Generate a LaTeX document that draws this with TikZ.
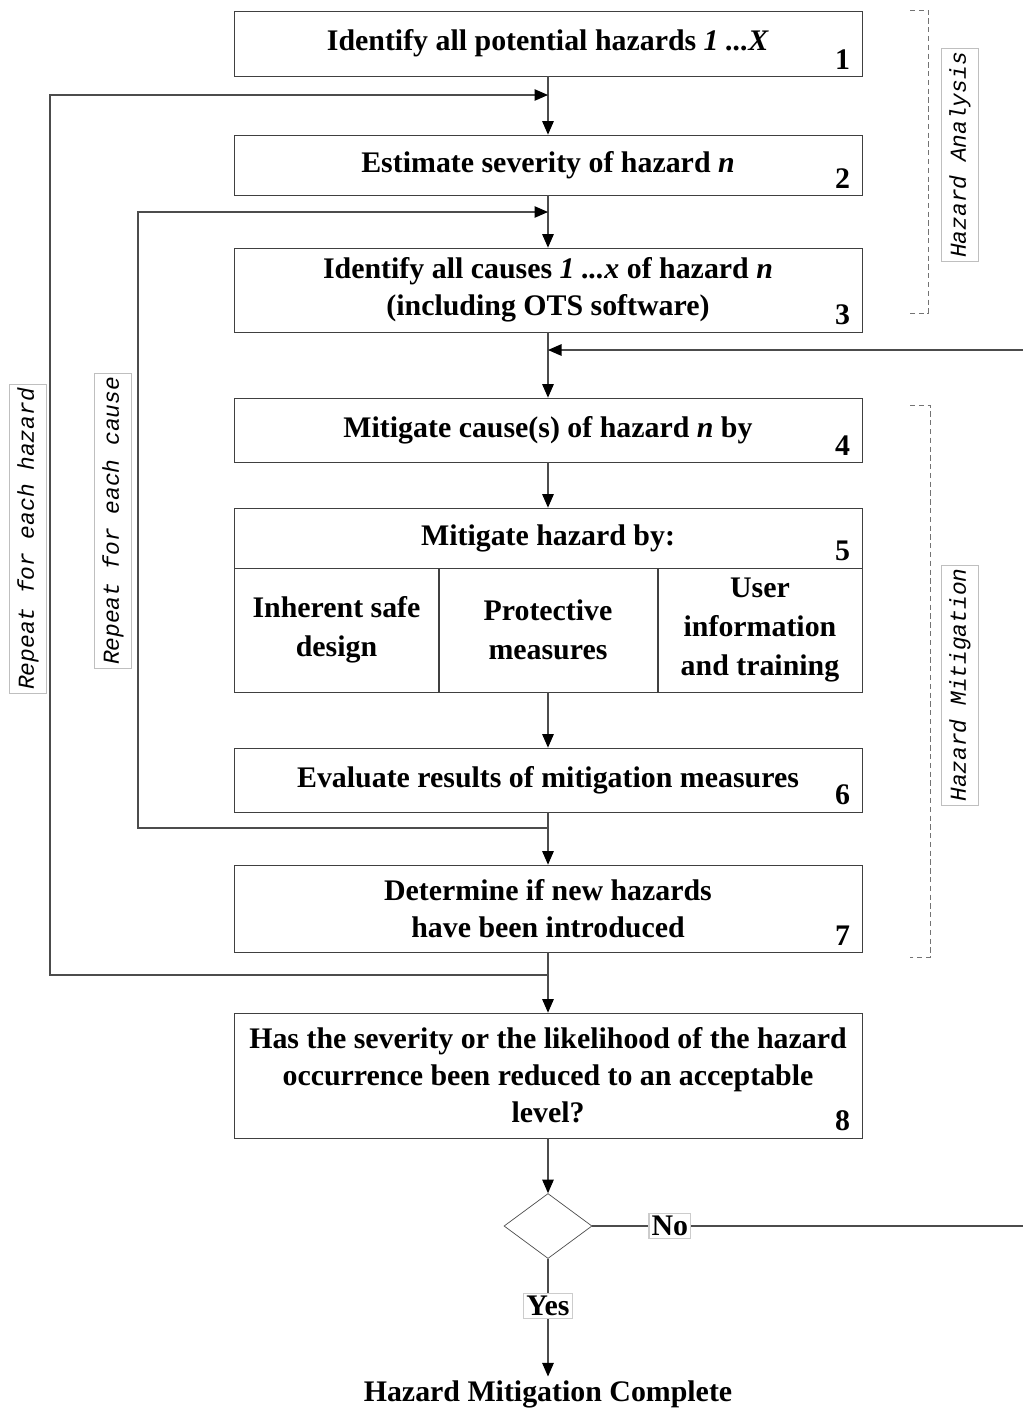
\documentclass[tikz,border=0pt]{standalone}
\usepackage{fontspec}
\setmainfont{Liberation Serif}
\newfontfamily\sidefont{Liberation Mono}
\usetikzlibrary{arrows.meta, shapes.geometric}

\begin{document}
\begin{tikzpicture}[x=0.2mm, y=-0.2mm,
  blk/.style={draw=black!75, thin, rectangle, minimum width=12.56cm, align=center,
               font=\fontsize{17}{21}\selectfont\bfseries, inner sep=2pt},
  cell/.style={draw=black!75, thin, rectangle, minimum height=2.48cm, align=center,
               font=\fontsize{17}{22}\selectfont\bfseries, inner sep=1pt},
  arr/.style={draw=black!70, semithick, -{Triangle[length=2.7mm, width=2.3mm, color=black]}},
  lnk/.style={draw=black!70, semithick},
  numlbl/.style={font=\fontsize{17}{19}\selectfont\bfseries, anchor=south east, inner sep=0pt},
  tag/.style={draw=black!20, fill=white, font=\fontsize{17}{19}\selectfont\bfseries, inner sep=1.5pt},
  side/.style={draw=black!25, fill=white, rotate=90, inner xsep=2pt, inner ysep=4.5pt,
               font=\sidefont\itshape\fontsize{13}{15}\selectfont},
  brk/.style={draw=black!55, densely dashed, thin},
  decide/.style={draw=black!70, thin, diamond, minimum width=1.76cm, minimum height=1.3cm, inner sep=0pt}
]
\useasboundingbox (0,0) rectangle (1023,1410);

% boxes
\node[blk, minimum height=1.3cm]  (b1) at (548,43.5)  {Identify all potential hazards \textit{1 ...X}};
\node[blk, minimum height=1.2cm]  (b2) at (548,165)   {Estimate severity of hazard \textit{n}};
\node[blk, minimum height=1.68cm] (b3) at (548,290)   {Identify all causes \textit{1 ...x} of hazard \textit{n}\\(including OTS software)};
\node[blk, minimum height=1.28cm] (b4) at (548,430)   {Mitigate cause(s) of hazard \textit{n} by};
\node[blk, minimum height=1.2cm]  (b5) at (548,538)   {Mitigate hazard by:};
\node[cell, minimum width=4.1cm]  (c1) at (336.5,630) {Inherent safe\\design};
\node[cell, minimum width=4.38cm] (c2) at (548,630)   {Protective\\measures};
\node[cell, minimum width=4.08cm] (c3) at (760,630)   {User\\information\\and training};
\node[blk, minimum height=1.28cm] (b6) at (548,780)   {Evaluate results of mitigation measures};
\node[blk, minimum height=1.74cm] (b7) at (548,908.5) {Determine if new hazards\\have been introduced};
\node[blk, minimum height=2.5cm]  (b8) at (548,1075.5) {Has the severity or the likelihood of the hazard\\occurrence been reduced to an acceptable\\level?};
\node[decide] (dec) at (548,1226) {};
\node[font=\fontsize{17}{19}\selectfont\bfseries, inner sep=2pt] (done) at (548,1394) {Hazard Mitigation Complete};

% step numbers
\node[numlbl] (n1) at ([shift={(-12,-7)}]b1.south east) {1};
\node[numlbl] (n2) at ([shift={(-12,-7)}]b2.south east) {2};
\node[numlbl] (n3) at ([shift={(-12,-7)}]b3.south east) {3};
\node[numlbl] (n4) at ([shift={(-12,-7)}]b4.south east) {4};
\node[numlbl] (n5) at ([shift={(-12,-7)}]b5.south east) {5};
\node[numlbl] (n6) at ([shift={(-12,-7)}]b6.south east) {6};
\node[numlbl] (n7) at ([shift={(-12,-7)}]b7.south east) {7};
\node[numlbl] (n8) at ([shift={(-12,-7)}]b8.south east) {8};

% junctions
\coordinate (j1) at (548,95);
\coordinate (j2) at (548,212);
\coordinate (j3) at (548,350);
\coordinate (j6) at (548,828);
\coordinate (j7) at (548,975);
\coordinate (lpH) at (50,95);
\coordinate (lpC) at (138,212);
\coordinate (rIn) at (1023,350);
\coordinate (rOut) at (1023,1226);

% main flow
\draw[arr] (b1) -- (b2);
\draw[arr] (b2) -- (b3);
\draw[arr] (b3) -- (b4);
\draw[arr] (b4) -- (b5);
\draw[arr] (c2.south) -- (b6.north);
\draw[arr] (b6) -- (b7);
\draw[arr] (b7) -- (b8);
\draw[arr] (b8) -- (dec);
\draw[arr] (dec) -- node[tag, pos=0.4] (yes) {Yes} (done);
\draw[lnk] (dec) -- node[tag, pos=0.18] (no) {No} (rOut);

% loops
\draw[arr] (j7) -| (lpH) -- (j1);
\draw[arr] (j6) -| (lpC) -- (j2);
\draw[arr] (rIn) -- (j3);

% side labels
\node[side] (rh) at (28,539)  {Repeat for each hazard};
\node[side] (rc) at (113,521) {Repeat for each cause};
\draw[brk] (910,10) -- (928,10) -- (928,313) -- (910,313);
\draw[brk] (910,405) -- (930,405) -- (930,957) -- (910,957);
\node[side] (ha) at (960,155) {Hazard Analysis};
\node[side] (hm) at (960,685) {Hazard Mitigation};
\end{tikzpicture}
\end{document}
